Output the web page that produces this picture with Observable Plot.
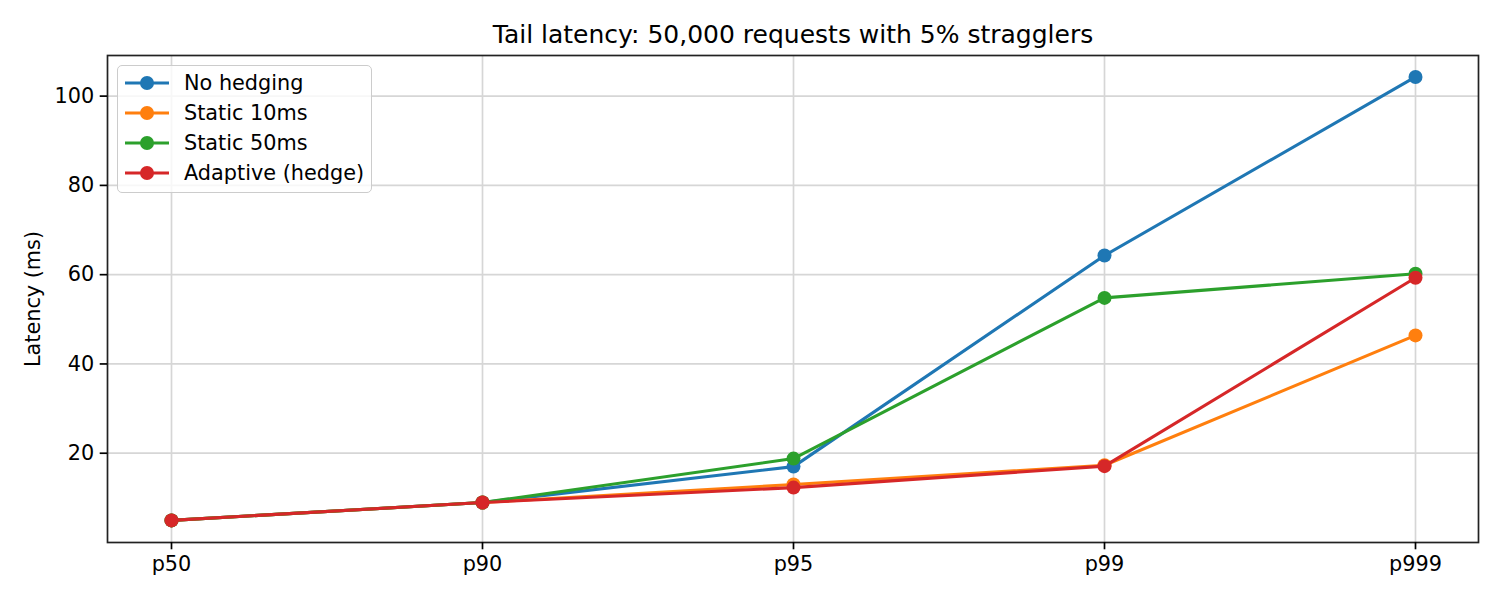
<!DOCTYPE html>
<html>
<head>
<meta charset="utf-8">
<script src="https://cdn.jsdelivr.net/npm/d3@7"></script>
<script src="https://cdn.jsdelivr.net/npm/@observablehq/plot@0.6"></script>
<style>
  html, body { margin: 0; padding: 0; background: white; }
  #wrap { position: relative; width: 1500px; height: 600px; font-family: "DejaVu Sans", sans-serif; }
  #legend {
    position: absolute; left: 117px; top: 65px; width: 255px; height: 128px;
    border: 1.5px solid #cccccc; border-radius: 5px; background: rgba(255,255,255,0.8);
    box-sizing: border-box;
  }
  .row { position: absolute; left: 0; height: 24px; display: flex; align-items: center; font-size: 20.8px; color: black; }
  .row svg { margin-left: 6px; }
  .row span { margin-left: 14px; white-space: nowrap; }
</style>
</head>
<body>
<div id="wrap"></div>
<script>
const titleText = "Tail latency: 50,000 requests with 5% stragglers";
const yLabel = "Latency (ms)";
const categories = ["p50", "p90", "p95", "p99", "p999"];
const seriesNames = ["No hedging", "Static 10ms", "Static 50ms", "Adaptive (hedge)"];
const colors = ["#1f77b4", "#ff7f0e", "#2ca02c", "#d62728"];
const yTicks = [20, 40, 60, 80, 100];

const noHedging = [4.95, 8.95, 17.0, 64.3, 104.3];
const static10 = [4.95, 8.95, 13.0, 17.3, 46.4];
const static50 = [4.95, 8.95, 18.8, 54.8, 60.2];
const adaptive = [4.95, 8.95, 12.3, 17.1, 59.3];

const seriesValues = [noHedging, static10, static50, adaptive];
const data = seriesNames.flatMap((name, i) =>
  categories.map((c, j) => ({series: name, cat: c, value: seriesValues[i][j]}))
);

const seriesMarks = seriesNames.flatMap(name => {
  const d = data.filter(r => r.series === name);
  return [
    Plot.lineY(d, {x: "cat", y: "value", stroke: "series", strokeWidth: 3.1}),
    Plot.dot(d, {x: "cat", y: "value", fill: "series", r: 7})
  ];
});

const chart = Plot.plot({
  width: 1500, height: 600,
  marginTop: 55, marginLeft: 107, marginRight: 22, marginBottom: 58,
  style: {fontFamily: "DejaVu Sans", fontSize: "20.8px", background: "white", color: "black"},
  x: {type: "point", domain: categories, padding: 0.2, label: null},
  y: {domain: [0, 109.1], label: null},
  color: {domain: seriesNames, range: colors},
  marks: [
    Plot.gridX(categories, {stroke: "#d6d6d6", strokeOpacity: 1, strokeWidth: 1.7}),
    Plot.gridY(yTicks, {stroke: "#d6d6d6", strokeOpacity: 1, strokeWidth: 1.7}),
    ...seriesMarks,
    Plot.frame({stroke: "#222", strokeWidth: 1.7}),
    Plot.axisX(categories, {tickSize: 7.3, tickPadding: 6, fontSize: 20.8, strokeWidth: 1.7, label: null}),
    Plot.axisY(yTicks, {tickSize: 7.3, tickPadding: 6, fontSize: 20.8, strokeWidth: 1.7, label: null}),
    Plot.text([titleText], {text: d => d, frameAnchor: "top", lineAnchor: "middle", dy: -21, fontSize: 25}),
    Plot.text([yLabel], {text: d => d, frameAnchor: "left", textAnchor: "middle", lineAnchor: "middle", dx: -74, rotate: -90, fontSize: 20.8})
  ]
});

const wrap = document.getElementById("wrap");
wrap.appendChild(chart);

const legend = document.createElement("div");
legend.id = "legend";
seriesNames.forEach((name, i) => {
  const row = document.createElement("div");
  row.className = "row";
  row.style.top = (4.5 + i * 30) + "px";
  row.innerHTML = `<svg width="46" height="24"><line x1="1" y1="12" x2="45" y2="12" stroke="${colors[i]}" stroke-width="3.1"/><circle cx="23" cy="12" r="7" fill="${colors[i]}"/></svg><span>${name}</span>`;
  legend.appendChild(row);
});
wrap.appendChild(legend);
</script>
</body>
</html>
